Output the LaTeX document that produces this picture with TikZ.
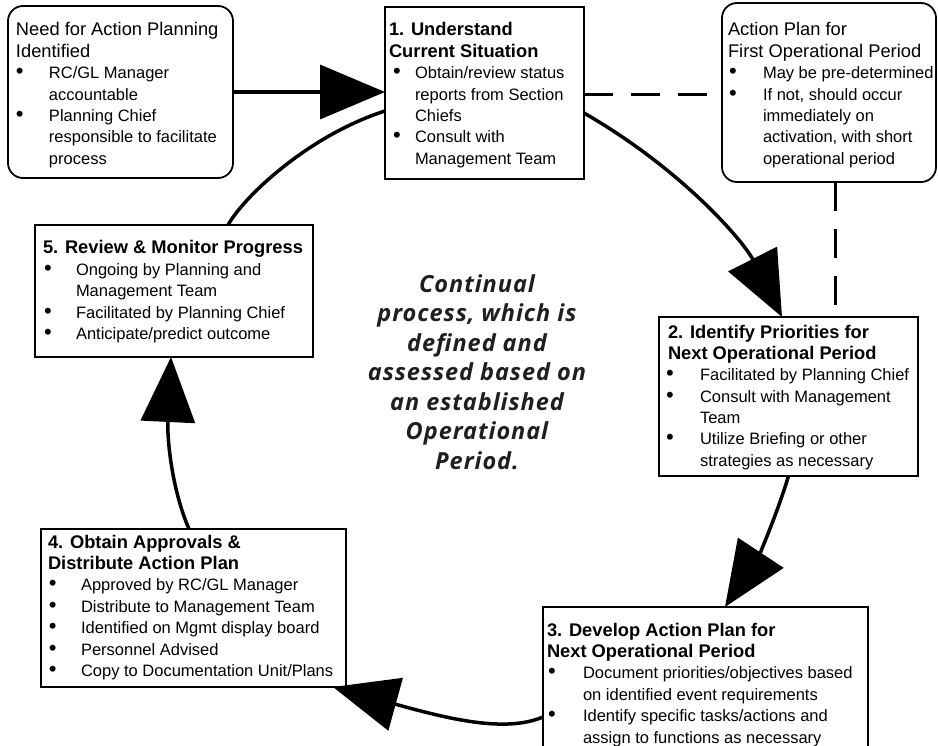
\documentclass[tikz,border=0pt]{standalone}
\usepackage{fontspec}
\setmainfont{Liberation Sans}
\newfontfamily\midfont{Open Sans}[LetterSpace=4]
\usetikzlibrary{arrows.meta}
\newlength\bind \newlength\bsh
\newcommand\bi[1]{\makebox[\bind][l]{\hspace{\bsh}{\fontsize{22pt}{0pt}\selectfont\textbullet}}#1}
\newcommand\ci[1]{\hspace*{\bind}#1}
\newcommand\bset[2]{\setlength\bsh{#1}\setlength\bind{#2}}
\newcommand\bodyf{\fontsize{16.5pt}{21.4pt}\selectfont}
\newcommand\ttl{\fontsize{18.3pt}{21.4pt}\selectfont\bfseries}
\newcommand\hdf{\fontsize{18.3pt}{21.4pt}\selectfont}
\tikzset{
  frame/.style={draw, line width=1.8pt, inner sep=0pt, outer sep=0pt, anchor=north west},
  rframe/.style={frame, rounded corners=15pt},
  txt/.style={inner sep=0pt, outer sep=0pt, anchor=base west},
  flow/.style={line width=3.5pt, -{Triangle[length=65pt,width=54pt]}},
  plainarc/.style={line width=3.5pt},
  dashline/.style={line width=3pt, dash pattern=on 29pt off 18pt}
}
\begin{document}
\begin{tikzpicture}[x=1pt,y=-1pt]
\path[use as bounding box, fill=white] (0,0) rectangle (938,746);

% frames
\node[rframe, minimum width=225pt, minimum height=172pt] (n0) at (8,6) {};
\node[frame, minimum width=199pt, minimum height=172pt] (b1) at (385,7) {};
\node[rframe, minimum width=214pt, minimum height=179pt] (ap) at (722,3) {};
\node[frame, minimum width=259pt, minimum height=159pt] (b2) at (659,317) {};
\node[frame, minimum width=325pt, minimum height=160pt] (b3) at (543,607) {};
\node[frame, minimum width=305pt, minimum height=158pt] (b4) at (41,529) {};
\node[frame, minimum width=278pt, minimum height=132pt] (b5) at (35,225) {};

% texts
\node[txt] (t0) at (16,36) {\parbox[t]{260pt}{\raggedright\bodyf\bset{0pt}{33pt}%
{\hdf Need for Action Planning}\\
{\hdf Identified}\\
\bi{RC/GL Manager}\\
\ci{accountable}\\
\bi{Planning Chief}\\
\ci{responsible to facilitate}\\
\ci{process}}};

\node[txt] (t1) at (389,36) {\parbox[t]{260pt}{\raggedright\bodyf\bset{4pt}{26pt}%
{\ttl 1. Understand}\\
{\ttl Current Situation}\\
\bi{Obtain/review status}\\
\ci{reports from Section}\\
\ci{Chiefs}\\
\bi{Consult with}\\
\ci{Management Team}}};

\node[txt] (tap) at (728,36) {\parbox[t]{260pt}{\raggedright\bodyf\bset{1pt}{35pt}%
{\hdf Action Plan for}\\
{\hdf First Operational Period}\\
\bi{May be pre-determined}\\
\bi{If not, should occur}\\
\ci{immediately on}\\
\ci{activation, with short}\\
\ci{operational period}}};

\node[txt] (t2) at (668,338) {\parbox[t]{300pt}{\raggedright\bodyf\bset{-2pt}{32pt}%
{\ttl 2. Identify Priorities for}\\
{\ttl Next Operational Period}\\
\bi{Facilitated by Planning Chief}\\
\bi{Consult with Management}\\
\ci{Team}\\
\bi{Utilize Briefing or other}\\
\ci{strategies as necessary}}};

\node[txt] (t3) at (547,636) {\parbox[t]{340pt}{\raggedright\bodyf\bset{1pt}{36pt}%
{\ttl 3. Develop Action Plan for}\\
{\ttl Next Operational Period}\\
\bi{Document priorities/objectives based}\\
\ci{on identified event requirements}\\
\bi{Identify specific tasks/actions and}\\
\ci{assign to functions as necessary}}};

\node[txt] (t4) at (48,548) {\parbox[t]{320pt}{\raggedright\bodyf\bset{1pt}{33pt}%
{\ttl 4. Obtain Approvals \&}\\
{\ttl Distribute Action Plan}\\
\bi{Approved by RC/GL Manager}\\
\bi{Distribute to Management Team}\\
\bi{Identified on Mgmt display board}\\
\bi{Personnel Advised}\\
\bi{Copy to Documentation Unit/Plans}}};

\node[txt] (t5) at (43,254) {\parbox[t]{300pt}{\raggedright\bodyf\bset{1pt}{33pt}%
{\ttl 5. Review \& Monitor Progress}\\
\bi{Ongoing by Planning and}\\
\ci{Management Team}\\
\bi{Facilitated by Planning Chief}\\
\bi{Anticipate/predict outcome}}};

\node[align=center, inner sep=0pt, text=black!88, font={\midfont\bfseries\itshape\fontsize{23.5pt}{29.5pt}\selectfont}] (mid) at (477,372)
 {Continual\\process, which is\\defined and\\assessed based on\\an established\\Operational\\Period.};

% connectors
\draw[flow] (n0.east) -- (n0.east -| b1.west);
\coordinate (d2) at ([yshift=-2pt]b1.east);
\draw[dashline] (d2) -- (d2 -| ap.west);
\coordinate (d1) at ([xshift=6pt]ap.south);
\draw[dashline] (d1) -- (d1 |- b2.north);

\draw[flow] ([yshift=-20pt]b1.east) .. controls +(99,57) and +(-38,-75) .. ([xshift=-6.5pt]b2.north);
\draw[flow] (b2.south) .. controls +(-12,40) and +(33,-50) .. ([xshift=19.5pt]b3.north);
\draw[flow] ([yshift=-30pt]b3.west) .. controls +(-38,16) and +(116,32) .. ([xshift=-13pt]b4.south east);
\draw[flow] ([xshift=-4.5pt]b4.north) .. controls +(-17,-39) and +(-4,82) .. ([xshift=-3pt]b5.south);
\draw[plainarc] ([xshift=54pt]b5.north) .. controls +(17,-30) and +(-75,24) .. ([yshift=-18pt]b1.west);
\end{tikzpicture}
\end{document}
